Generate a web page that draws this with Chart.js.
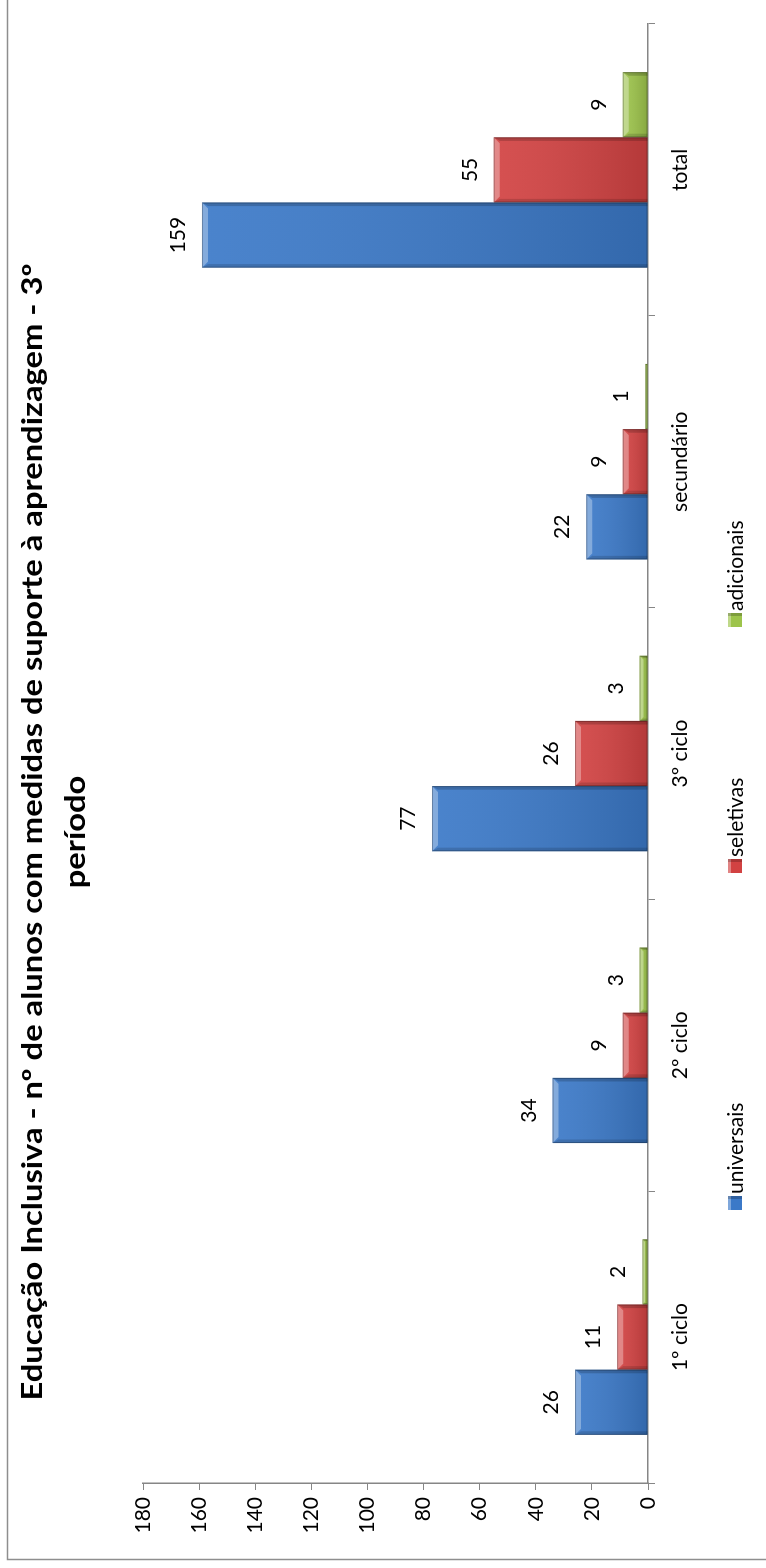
<!DOCTYPE html>
<html>
<head>
<meta charset="utf-8">
<script src="https://cdn.jsdelivr.net/npm/chart.js@4"></script>
<style>
  html, body { margin: 0; padding: 0; background: #fff; }
  body { width: 766px; height: 1568px; overflow: hidden; position: relative; }
  #wrap {
    position: absolute; left: 0; top: 0;
    width: 1568px; height: 766px;
    transform-origin: 0 0;
    transform: translate(0, 1568px) rotate(-90deg);
  }
</style>
</head>
<body>
<div id="wrap"><canvas id="chart" width="1568" height="766"></canvas></div>
<script>
var categories = ['1º ciclo', '2º ciclo', '3º ciclo', 'secundário', 'total'];
var seriesNames = ['universais', 'seletivas', 'adicionais'];
var universais = [26, 34, 77, 22, 159];
var seletivas = [11, 9, 26, 9, 55];
var adicionais = [2, 3, 3, 1, 9];
var yMax = 180;
var yStep = 20;
var titleLines = ['Educação Inclusiva - nº de alunos com medidas de suporte à aprendizagem - 3º', 'período'];

var seriesColors = ['#3b79c8', '#d24242', '#9dc44b'];

// frame, title, legend and the bevelled look of the bars
var decorPlugin = {
    id: 'decor',
    beforeDraw: function(chart) {
        var ctx = chart.ctx;
        ctx.save();
        ctx.fillStyle = '#fff';
        ctx.fillRect(0, 0, chart.width, chart.height);
        ctx.strokeStyle = '#8e8e8e';
        ctx.lineWidth = 1.5;
        ctx.strokeRect(8.5, 7.5, chart.width, chart.height);
        ctx.restore();
    },
    afterDatasetsDraw: function(chart) {
        var ctx = chart.ctx;
        ctx.save();
        chart.data.datasets.forEach(function(ds, di) {
            var meta = chart.getDatasetMeta(di);
            meta.data.forEach(function(bar, i) {
                var p = bar.getProps(['x', 'y', 'base', 'width'], true);
                var left = p.x - p.width / 2, right = p.x + p.width / 2;
                var top = p.y, bottom = p.base;
                var h = bottom - top;
                if (h <= 0) return;
                var b = Math.min(6, h / 2);
                var g = ctx.createLinearGradient(0, top, 0, bottom);
                g.addColorStop(0, 'rgba(255,255,255,0.08)');
                g.addColorStop(1, 'rgba(0,0,0,0.14)');
                ctx.fillStyle = g;
                ctx.fillRect(left, top, p.width, h);
                // top bevel
                ctx.fillStyle = 'rgba(255,255,255,0.32)';
                ctx.beginPath();
                ctx.moveTo(left, top); ctx.lineTo(right, top);
                ctx.lineTo(right - b, top + b); ctx.lineTo(left + b, top + b);
                ctx.closePath(); ctx.fill();
                // side bevels
                ctx.fillStyle = 'rgba(0,0,0,0.14)';
                ctx.beginPath();
                ctx.moveTo(left, top); ctx.lineTo(left + b * 0.6, top + b);
                ctx.lineTo(left + b * 0.6, bottom); ctx.lineTo(left, bottom);
                ctx.closePath(); ctx.fill();
                ctx.fillStyle = 'rgba(0,0,0,0.18)';
                ctx.beginPath();
                ctx.moveTo(right, top); ctx.lineTo(right - b * 0.6, top + b);
                ctx.lineTo(right - b * 0.6, bottom); ctx.lineTo(right, bottom);
                ctx.closePath(); ctx.fill();
                ctx.strokeStyle = 'rgba(0,0,0,0.25)';
                ctx.lineWidth = 1;
                ctx.strokeRect(left + 0.5, top + 0.5, p.width - 1, h - 1);

                // value label
                ctx.fillStyle = '#000';
                ctx.font = '21px Lato';
                ctx.textAlign = 'center';
                ctx.textBaseline = 'alphabetic';
                ctx.fillText(String(ds.data[i]), p.x, top - 17);
            });
        });
        ctx.restore();
    },
    afterDraw: function(chart) {
        var ctx = chart.ctx;
        ctx.save();
        ctx.fillStyle = '#000';
        ctx.font = 'bold 28px Lato';
        ctx.textAlign = 'center';
        ctx.textBaseline = 'alphabetic';
        // the original title is set in a narrower face: stretch to its width
        var sx = 1137 / ctx.measureText(titleLines[0]).width;
        var baselines = [42, 85];
        titleLines.forEach(function(line, k) {
            ctx.save();
            ctx.translate(736, baselines[k]);
            ctx.scale(sx, 1);
            ctx.fillText(line, 0, 0);
            ctx.restore();
        });

        var legendX = [358, 695, 941];
        ctx.font = '21px Lato';
        ctx.textAlign = 'left';
        chart.data.datasets.forEach(function(ds, di) {
            var x = legendX[di];
            ctx.fillStyle = ds.backgroundColor;
            ctx.fillRect(x, 728, 14, 14);
            ctx.fillStyle = 'rgba(255,255,255,0.35)';
            ctx.fillRect(x, 728, 14, 3);
            ctx.fillStyle = 'rgba(0,0,0,0.2)';
            ctx.fillRect(x + 11, 728, 3, 14);
            ctx.fillStyle = '#000';
            ctx.fillText(ds.label, x + 16, 743);
        });
        ctx.restore();
    }
};

function buildChart() {
    Chart.defaults.font.family = 'Lato';
    Chart.defaults.color = '#000';
    var data = {
        labels: categories,
        datasets: [universais, seletivas, adicionais].map(function(values, k) {
            return {
                label: seriesNames[k],
                data: values,
                backgroundColor: seriesColors[k],
                borderWidth: 0,
                categoryPercentage: 0.67,
                barPercentage: 1.0
            };
        })
    };
    var config = {
        type: 'bar',
        data: data,
        options: {
            responsive: false,
            animation: false,
            devicePixelRatio: 1,
            layout: {
                padding: { top: 143, right: 24, bottom: 0, left: 0 }
            },
            plugins: {
                legend: { display: false },
                title: { display: false },
                tooltip: { enabled: false }
            },
            scales: {
                x: {
                    grid: {
                        offset: true,
                        drawOnChartArea: false,
                        drawTicks: true,
                        tickLength: 7,
                        color: '#868686'
                    },
                    border: { color: '#868686', width: 1.5 },
                    ticks: {
                        padding: 13,
                        font: { size: 21 },
                        color: '#000'
                    },
                    afterFit: function(scale) { scale.height = 118; }
                },
                y: {
                    min: 0,
                    max: yMax,
                    grid: {
                        drawOnChartArea: false,
                        drawTicks: true,
                        tickLength: 7,
                        color: '#868686'
                    },
                    border: { color: '#868686', width: 1.5 },
                    ticks: {
                        stepSize: yStep,
                        padding: 7,
                        font: { size: 21 },
                        color: '#000'
                    },
                    afterFit: function(scale) { scale.width = 85; }
                }
            }
        },
        plugins: [decorPlugin]
    };
    var chart = new Chart(document.getElementById('chart'), config);
}

if (document.fonts && document.fonts.load) {
    Promise.all([document.fonts.load('21px Lato'), document.fonts.load('bold 28px Lato')])
        .then(buildChart, buildChart);
} else {
    buildChart();
}
</script>
</body>
</html>
